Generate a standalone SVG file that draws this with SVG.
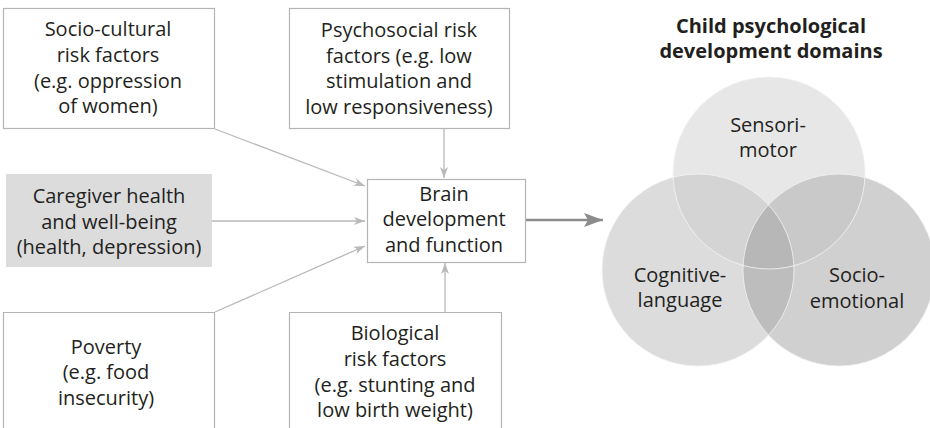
<svg xmlns="http://www.w3.org/2000/svg" width="930" height="428" viewBox="0 0 930 428">
  <style>
    .box { fill: #ffffff; stroke: #b4b4b4; stroke-width: 1.2; }
    .box.shaded { fill: #dcdcdd; stroke: none; }
    .lbl { font-family: "Open Sans", "Liberation Sans", sans-serif; font-size: 20px; fill: #231f20; text-anchor: middle; }
    .title { font-weight: bold; }
    .conn { stroke: #b9b9b9; stroke-width: 1.3; fill: none; marker-end: url(#tip); }
    .main { stroke: #8c8c8c; stroke-width: 2.6; fill: none; marker-end: url(#bigtip); }
    .ring { fill: none; stroke: #f4f4f4; stroke-width: 1; opacity: 0.8; }
  </style>
  <defs>
    <marker id="tip" markerUnits="userSpaceOnUse" markerWidth="12" markerHeight="9" refX="11" refY="4" orient="auto">
      <path d="M0,0 L11,4 L0,8 L3,4 z" fill="#b9b9b9"/>
    </marker>
    <marker id="bigtip" markerUnits="userSpaceOnUse" markerWidth="20" markerHeight="15" refX="19" refY="7" orient="auto">
      <path d="M0,0 L19,7 L0,14 L4,7 z" fill="#8c8c8c"/>
    </marker>
    <clipPath id="clipL"><circle cx="698" cy="270" r="96"/></clipPath>
    <clipPath id="clipR"><circle cx="839" cy="270" r="96"/></clipPath>
  </defs>

  <rect width="930" height="428" fill="#ffffff"/>

  <!-- connectors -->
  <g id="connectors">
    <line class="conn" x1="215" y1="129" x2="365" y2="186"/>
    <line class="conn" x1="212" y1="221" x2="365" y2="221"/>
    <line class="conn" x1="215" y1="312" x2="365" y2="246"/>
    <line class="conn" x1="444" y1="128" x2="444" y2="178"/>
    <line class="conn" x1="445" y1="312" x2="445" y2="263"/>
    <line class="main" x1="526" y1="220" x2="603" y2="220"/>
  </g>

  <g id="socio-cultural">
    <rect class="box" x="3.5" y="8.5" width="211" height="120"/>
    <text class="lbl" x="108" y="36">Socio-cultural</text>
    <text class="lbl" x="108" y="62">risk factors</text>
    <text class="lbl" x="108" y="88">(e.g. oppression</text>
    <text class="lbl" x="108" y="113">of women)</text>
  </g>

  <g id="psychosocial">
    <rect class="box" x="289.5" y="8.5" width="220" height="120"/>
    <text class="lbl" x="399" y="37">Psychosocial risk</text>
    <text class="lbl" x="399" y="63">factors (e.g. low</text>
    <text class="lbl" x="399" y="88">stimulation and</text>
    <text class="lbl" x="399" y="114">low responsiveness)</text>
  </g>

  <g id="caregiver">
    <rect class="box shaded" x="6" y="174" width="206" height="93"/>
    <text class="lbl" x="109" y="203">Caregiver health</text>
    <text class="lbl" x="109" y="229">and well-being</text>
    <text class="lbl" x="109" y="254">(health, depression)</text>
  </g>

  <g id="poverty">
    <path class="box" d="M3.5,430 V312.5 H214.5 V430"/>
    <text class="lbl" x="106" y="354">Poverty</text>
    <text class="lbl" x="106" y="379">(e.g. food</text>
    <text class="lbl" x="106" y="405">insecurity)</text>
  </g>

  <g id="biological">
    <path class="box" d="M289.5,430 V312.5 H501.5 V430"/>
    <text class="lbl" x="395" y="340">Biological</text>
    <text class="lbl" x="395" y="366">risk factors</text>
    <text class="lbl" x="395" y="392">(e.g. stunting and</text>
    <text class="lbl" x="395" y="417">low birth weight)</text>
  </g>

  <g id="brain">
    <rect class="box" x="367.5" y="179.5" width="158" height="83"/>
    <text class="lbl" x="444" y="201">Brain</text>
    <text class="lbl" x="444" y="226">development</text>
    <text class="lbl" x="444" y="252">and function</text>
  </g>

  <g id="domains">
    <text class="lbl title" x="771" y="33">Child psychological</text>
    <text class="lbl title" x="771" y="58">development domains</text>

    <!-- overlapping domain circles, each region shaded explicitly -->
    <circle cx="698" cy="270" r="96" fill="#dcdcdc"/>
    <circle cx="839" cy="270" r="96" fill="#d0d0d0"/>
    <circle cx="698" cy="270" r="96" fill="#bdbdbd" clip-path="url(#clipR)"/>
    <circle cx="769" cy="173" r="96" fill="#e7e7e7"/>
    <circle cx="769" cy="173" r="96" fill="#d4d4d4" clip-path="url(#clipL)"/>
    <circle cx="769" cy="173" r="96" fill="#c9c9c9" clip-path="url(#clipR)"/>
    <g clip-path="url(#clipL)">
      <circle cx="769" cy="173" r="96" fill="#b7b7b7" clip-path="url(#clipR)"/>
    </g>
    <circle class="ring" cx="769" cy="173" r="96"/>
    <circle class="ring" cx="698" cy="270" r="96"/>
    <circle class="ring" cx="839" cy="270" r="96"/>

    <text class="lbl" x="768" y="132">Sensori-</text>
    <text class="lbl" x="768" y="157">motor</text>
    <text class="lbl" x="680" y="282">Cognitive-</text>
    <text class="lbl" x="680" y="307">language</text>
    <text class="lbl" x="857" y="282">Socio-</text>
    <text class="lbl" x="857" y="308">emotional</text>
  </g>
</svg>
